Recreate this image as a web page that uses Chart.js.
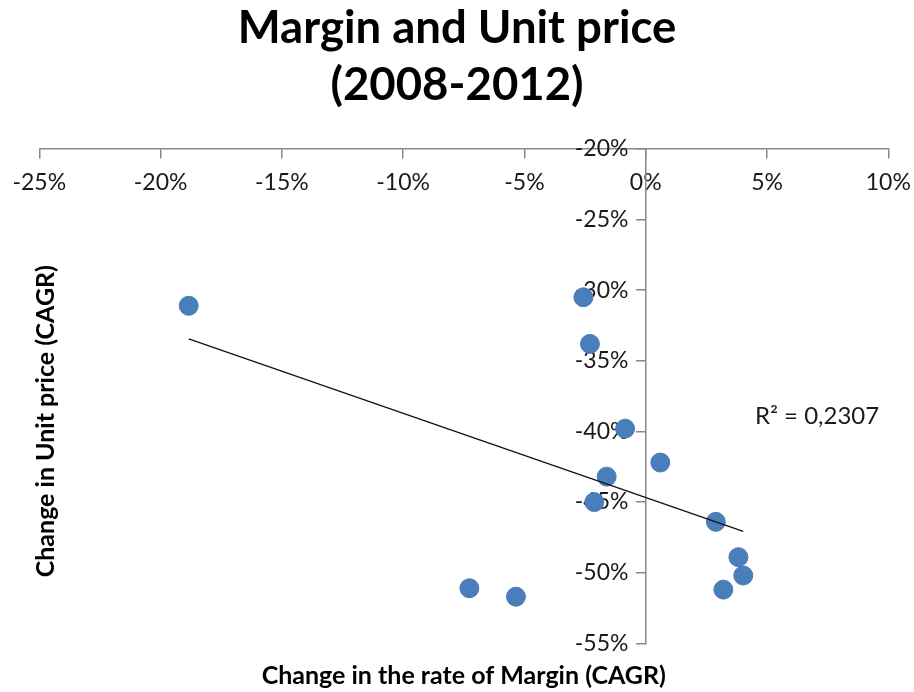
<!DOCTYPE html>
<html>
<head>
<meta charset="utf-8">
<title>Margin and Unit price (2008-2012)</title>
<script src="https://cdn.jsdelivr.net/npm/chart.js@4.4.1/dist/chart.umd.min.js"></script>
<style>
  html, body { margin: 0; padding: 0; background: #fff; }
  #wrap { width: 914px; height: 692px; position: relative; }
</style>
</head>
<body>
<div id="wrap"><canvas id="chart"></canvas></div>
<script>
// Change in margin rate vs change in unit price, CAGR in percent
const marginCagr = [-18.84, -2.57, -2.30, -0.85, -1.61, -2.12, 0.60, 2.89, 3.82, 4.02, 3.20, -7.27, -5.35];
const priceCagr  = [-31.1, -30.5, -33.8, -39.8, -43.2, -45.0, -42.2, -46.4, -48.9, -50.2, -51.2, -51.1, -51.7];

const xRange = [-25, 10];
const yRange = [-55, -20];
const tickStep = 5;
const r2Label = 'R\u00B2 = 0,2307';
const r2Anchor = [4.5, -38.9];

const titleLines = ['Margin and Unit price', '(2008-2012)'];
const xTitle = 'Change in the rate of Margin (CAGR)';
const yTitle = 'Change in Unit price (CAGR)';

const axisGrey = '#898989';
const textColor = '#1a1a1a';
const dotBlue = '#4A7EBB';
const tickFont = { size: 23 };

// least squares line through the points
const fitLine = (xs, ys) => {
  const n = xs.length;
  const mx = xs.reduce((a, b) => a + b, 0) / n;
  const my = ys.reduce((a, b) => a + b, 0) / n;
  let sxy = 0, sxx = 0;
  xs.forEach((x, i) => { sxy += (x - mx) * (ys[i] - my); sxx += (x - mx) * (x - mx); });
  const slope = sxy / sxx;
  const intercept = my - slope * mx;
  const x0 = Math.min(...xs), x1 = Math.max(...xs);
  return [{ x: x0, y: intercept + slope * x0 }, { x: x1, y: intercept + slope * x1 }];
};

const points = marginCagr.map((x, i) => ({ x, y: priceCagr[i] }));
const trend = fitLine(marginCagr, priceCagr);

Chart.defaults.font.family = 'Lato, "Open Sans", sans-serif';
Chart.defaults.color = textColor;

// writes the R² value beside the trend line
const r2Text = {
  id: 'r2Text',
  afterDatasetsDraw(chart) {
    const { ctx, scales } = chart;
    ctx.save();
    ctx.font = '24px Lato, "Open Sans", sans-serif';
    ctx.fillStyle = textColor;
    ctx.textAlign = 'left';
    ctx.textBaseline = 'middle';
    ctx.fillText(r2Label, scales.x.getPixelForValue(r2Anchor[0]), scales.y.getPixelForValue(r2Anchor[1]));
    ctx.restore();
  }
};

// nudge the vertical axis title down a little
const shiftYTitle = {
  id: 'shiftYTitle',
  afterLayout(chart) {
    const s = chart.scales.y2;
    s.top += 25;
    s.bottom += 25;
  }
};

const axisLine = {
  border: { display: true, color: axisGrey, width: 1.5 },
  grid: { drawOnChartArea: false, drawTicks: true, tickLength: 9, color: axisGrey, lineWidth: 1.5 }
};

new Chart(document.getElementById('chart'), {
  type: 'scatter',
  data: {
    datasets: [
      {
        type: 'line',
        label: 'Trend',
        data: trend,
        borderColor: '#111',
        borderWidth: 1.2,
        pointRadius: 0,
        fill: false,
        order: 0
      },
      {
        label: 'Countries',
        data: points,
        backgroundColor: dotBlue,
        borderColor: dotBlue,
        borderWidth: 1,
        pointRadius: 9.5,
        pointHoverRadius: 9.5,
        order: 1
      }
    ]
  },
  options: {
    responsive: true,
    maintainAspectRatio: false,
    animation: false,
    layout: { padding: { left: 25.7, right: 25.7, top: 0, bottom: 0 } },
    plugins: {
      legend: { display: false },
      tooltip: { enabled: false },
      title: {
        display: true,
        text: titleLines,
        color: '#000',
        font: { size: 45.5, weight: 'bold', lineHeight: 57 / 45.5 },
        padding: { top: 0, bottom: 35 }
      }
    },
    scales: {
      // x axis crosses at the top of the price range
      x: {
        type: 'linear',
        min: xRange[0], max: xRange[1],
        position: { y: yRange[1] },
        ...axisLine,
        ticks: { stepSize: tickStep, padding: 11, font: tickFont, color: textColor, maxRotation: 0, callback: v => v + '%' },
        afterFit: s => { s.height = 0; s.paddingLeft = 0; s.paddingRight = 0; }
      },
      // y axis crosses at zero margin change; em space keeps labels clear of the tick marks
      y: {
        type: 'linear',
        min: yRange[0], max: yRange[1],
        position: { x: 0 },
        ...axisLine,
        ticks: { stepSize: tickStep, font: tickFont, color: textColor, callback: v => v + '%\u2003' },
        afterFit: s => { s.width = 0; s.paddingTop = 0; s.paddingBottom = 0; }
      },
      x2: {
        type: 'linear', position: 'bottom', display: true,
        ticks: { display: false }, grid: { display: false, drawTicks: false }, border: { display: false },
        title: { display: true, text: xTitle, color: '#000', font: { size: 25, weight: 'bold' }, padding: { top: 0, bottom: 1 } },
        afterFit: s => { s.height = 48.7; }
      },
      y2: {
        type: 'linear', position: 'left', display: true,
        ticks: { display: false }, grid: { display: false, drawTicks: false }, border: { display: false },
        title: { display: true, text: yTitle, color: '#000', font: { size: 25, weight: 'bold' }, padding: { top: 5.3, bottom: 0 } },
        afterFit: s => { s.width = 13.6; }
      }
    }
  },
  plugins: [r2Text, shiftYTitle]
});
</script>
</body>
</html>
